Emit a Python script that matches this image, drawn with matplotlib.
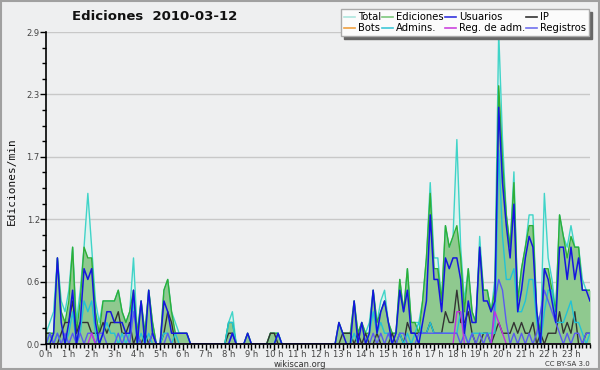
import numpy as np
import matplotlib
matplotlib.use('Agg')
import matplotlib.pyplot as plt
from matplotlib.lines import Line2D
from matplotlib.patches import Rectangle
from matplotlib.ticker import FixedLocator, MultipleLocator

# ── Data: edits per 10-minute bin (6 bins per hour), 2010-03-12 ────────────────

total = [1, 2, 3, 8, 4, 3,   5, 9, 2, 5, 9, 14,   9, 4, 2, 4, 4, 4,   4, 5, 3, 2, 3, 8,
         1, 4, 1, 5, 2, 0,   0, 5, 6, 3, 2, 1,    1, 1, 0, 0, 0, 0,   0, 0, 0, 0, 0, 0,
         2, 3, 0, 0, 0, 1,   0, 0, 0, 0, 0, 1,    1, 1, 0, 0, 0, 0,   0, 0, 0, 0, 0, 0,
         0, 0, 0, 0, 0, 2,   1, 1, 1, 4, 1, 2,    1, 2, 5, 2, 4, 5,   2, 1, 1, 6, 3, 7,
         2, 2, 2, 4, 8, 15,  8, 8, 4, 11, 9, 10,  19, 9, 4, 7, 3, 2,  10, 5, 5, 3, 6, 29,
         19, 12, 9, 16, 4, 7, 9, 12, 12, 3, 1, 14, 8, 6, 3, 12, 10, 9, 11, 9, 9, 6, 5, 5]

ediciones = [1, 1, 1, 8, 3, 2,   4, 9, 1, 4, 9, 8,   8, 3, 1, 4, 4, 4,   4, 5, 3, 2, 3, 5,
             1, 4, 1, 5, 2, 0,   0, 5, 6, 3, 1, 1,   1, 1, 0, 0, 0, 0,   0, 0, 0, 0, 0, 0,
             2, 2, 0, 0, 0, 1,   0, 0, 0, 0, 0, 1,   1, 1, 0, 0, 0, 0,   0, 0, 0, 0, 0, 0,
             0, 0, 0, 0, 0, 2,   1, 1, 1, 4, 1, 2,   1, 1, 5, 2, 3, 4,   2, 1, 1, 6, 3, 7,
             2, 2, 1, 4, 8, 14,  7, 7, 4, 11, 9, 10, 11, 8, 3, 7, 3, 2,  9, 5, 5, 3, 5, 24,
             17, 12, 9, 15, 4, 7, 9, 11, 11, 3, 1, 7, 7, 5, 3, 12, 10, 8, 10, 9, 9, 5, 5, 5]

usuarios = [0, 0, 1, 8, 2, 0,   2, 5, 0, 2, 7, 6,   7, 2, 0, 1, 3, 3,   2, 2, 2, 1, 1, 5,
            0, 4, 0, 5, 1, 0,   0, 4, 3, 1, 1, 1,   1, 1, 0, 0, 0, 0,   0, 0, 0, 0, 0, 0,
            0, 1, 0, 0, 0, 1,   0, 0, 0, 0, 0, 0,   0, 1, 0, 0, 0, 0,   0, 0, 0, 0, 0, 0,
            0, 0, 0, 0, 0, 2,   1, 0, 0, 4, 0, 2,   0, 1, 5, 1, 3, 4,   2, 0, 1, 5, 3, 5,
            1, 1, 0, 2, 4, 12,  6, 6, 3, 8, 7, 8,   8, 6, 1, 4, 2, 2,   9, 4, 4, 3, 4, 22,
            15, 11, 8, 13, 3, 5, 8, 10, 9, 3, 0, 7,  6, 4, 2, 9, 9, 6,   9, 6, 8, 5, 5, 4]

ip = [1, 1, 0, 0, 1, 2,   2, 4, 1, 2, 2, 2,   1, 1, 1, 2, 1, 2,   2, 3, 1, 1, 2, 0,
      1, 0, 1, 0, 1, 0,   0, 1, 3, 2, 0, 0,   0, 0, 0, 0, 0, 0,   0, 0, 0, 0, 0, 0,
      1, 1, 0, 0, 0, 0,   0, 0, 0, 0, 0, 1,   1, 0, 0, 0, 0, 0,   0, 0, 0, 0, 0, 0,
      0, 0, 0, 0, 0, 0,   1, 1, 1, 0, 1, 0,   1, 0, 0, 1, 0, 0,   0, 1, 0, 1, 0, 2,
      1, 1, 1, 1, 1, 2,   1, 1, 1, 3, 2, 2,   5, 2, 2, 3, 1, 0,   0, 1, 1, 0, 1, 2,
      1, 1, 1, 2, 1, 2,   1, 1, 2, 0, 1, 0,   1, 1, 1, 3, 1, 2,   1, 3, 0, 0, 1, 1]

bots = [0] * 144

admins = [0, 1, 0, 1, 0, 0,   1, 3, 0, 1, 4, 3,   4, 1, 0, 1, 2, 1,   1, 0, 1, 0, 1, 4,
          0, 1, 0, 1, 0, 0,   0, 1, 1, 0, 1, 0,   0, 0, 0, 0, 0, 0,   0, 0, 0, 0, 0, 0,
          2, 2, 0, 0, 0, 0,   0, 0, 0, 0, 0, 0,   0, 1, 0, 0, 0, 0,   0, 0, 0, 0, 0, 0,
          0, 0, 0, 0, 0, 0,   0, 0, 0, 1, 0, 0,   0, 1, 3, 1, 2, 1,   1, 0, 0, 1, 0, 1,
          0, 1, 2, 1, 1, 2,   1, 1, 1, 1, 1, 1,   1, 3, 1, 0, 1, 1,   1, 1, 1, 1, 1, 18,
          10, 6, 6, 7, 3, 3,  4, 6, 6, 2, 0, 3,   5, 5, 2, 2, 2, 3,   4, 2, 2, 1, 0, 1]

reg_adm = [0, 0, 0, 0, 0, 0,   0, 0, 0, 0, 0, 0,   1, 0, 0, 0, 0, 0,   0, 0, 0, 0, 0, 0,
           0, 0, 0, 0, 0, 0,   0, 0, 0, 0, 0, 0,   0, 0, 0, 0, 0, 0,   0, 0, 0, 0, 0, 0,
           0, 0, 0, 0, 0, 0,   0, 0, 0, 0, 0, 0,   0, 0, 0, 0, 0, 0,   0, 0, 0, 0, 0, 0,
           0, 0, 0, 0, 0, 0,   0, 0, 0, 0, 0, 0,   0, 0, 0, 0, 0, 0,   0, 0, 0, 0, 0, 0,
           0, 0, 0, 0, 0, 0,   0, 0, 0, 0, 0, 0,   3, 3, 0, 0, 0, 0,   0, 0, 0, 0, 3, 2,
           1, 0, 0, 0, 0, 0,   0, 0, 0, 0, 0, 0,   0, 0, 0, 0, 0, 0,   0, 0, 0, 0, 0, 0]

registros = [0, 1, 0, 1, 0, 1,   0, 1, 0, 1, 0, 1,   1, 0, 1, 1, 0, 0,   0, 1, 0, 1, 0, 3,
             1, 0, 0, 0, 1, 0,   0, 0, 1, 0, 0, 0,   0, 0, 0, 0, 0, 0,   0, 0, 0, 0, 0, 0,
             0, 1, 0, 0, 0, 0,   0, 0, 0, 0, 0, 0,   0, 0, 0, 0, 0, 0,   0, 0, 0, 0, 0, 0,
             0, 0, 0, 0, 0, 0,   0, 0, 0, 0, 0, 0,   0, 0, 1, 0, 1, 0,   1, 0, 0, 1, 1, 0,
             0, 0, 1, 1, 1, 1,   1, 1, 1, 1, 1, 1,   1, 0, 1, 0, 1, 0,   1, 0, 1, 0, 4, 6,
             5, 2, 0, 1, 0, 1,   0, 1, 0, 1, 3, 5,   4, 3, 2, 1, 0, 1,   0, 1, 1, 0, 1, 1]

hour_labels = [f'{h} h' for h in range(24)]
title = 'Ediciones  2010-03-12'
ylabel = 'Ediciones/min'
y_max = 2.9

# ── Figure ─────────────────────────────────────────────────────────────────────

BG = '#eeeff0'
plt.rcParams['font.family'] = ['DejaVu Sans']

fig = plt.figure(figsize=(6.0, 3.7), dpi=100, facecolor=BG)
ax = fig.add_axes([46 / 600, 1 - 344 / 370, 544 / 600, 312 / 370])
ax.set_facecolor(BG)

x = np.arange(len(total))
per_min = lambda counts: np.asarray(counts) / 10.0   # edits per 10 min -> per min

ax.fill_between(x, per_min(total), color='#ddf3ef', lw=0, zorder=1)
ax.fill_between(x, per_min(ediciones), color='#8fc98f', lw=0, zorder=2)

ax.plot(x, per_min(bots), color='#f0a040', lw=1.0, zorder=2.5)
ax.plot(x, per_min(total), color='#40d4c8', lw=1.0, zorder=3)
ax.plot(x, per_min(ediciones), color='#2fae35', lw=1.0, zorder=4)
ax.plot(x, per_min(ip), color='#333333', lw=1.0, zorder=5)
ax.plot(x, per_min(admins), color='#22c2d6', lw=1.0, zorder=5)
ax.plot(x, per_min(registros), color='#5a5af0', lw=1.0, zorder=5)
ax.plot(x, per_min(reg_adm), color='#c030e0', lw=1.0, zorder=6)
ax.plot(x, per_min(usuarios), color='#1515e0', lw=1.1, zorder=7)

# axes
ax.set_xlim(0, len(total) - 1)
ax.set_ylim(0, y_max)
yt = np.linspace(0, y_max, 6)
ax.yaxis.set_major_locator(FixedLocator(yt))
ax.set_yticklabels([f'{v:.1f}' for v in yt])
ax.yaxis.set_minor_locator(MultipleLocator(y_max / 20))
ax.xaxis.set_major_locator(FixedLocator(np.arange(0, 144, 6)))
ax.set_xticklabels(hour_labels)
ax.xaxis.set_minor_locator(MultipleLocator(1))

for yv in yt[1:]:
    ax.axhline(yv, color='#c8c8c8', lw=1.0, zorder=0.5)

for s in ('top', 'right'):
    ax.spines[s].set_visible(False)
ax.spines['left'].set_linewidth(1.2)
ax.spines['bottom'].set_linewidth(1.2)
ax.spines['left'].set_zorder(10)
ax.spines['bottom'].set_zorder(10)

ax.tick_params(axis='both', which='major', length=4, width=1, labelsize=6,
               labelcolor='#444444', pad=0.5)
ax.tick_params(axis='both', which='minor', length=3, width=1)

fig.text(0.257, 0.955, title, ha='center', va='center', fontsize=9.5,
         fontweight='bold', color='#111111')
fig.text(0.02, 0.51, ylabel, rotation=90, ha='center', va='center',
         fontsize=8, family='DejaVu Sans Mono', color='#111111')
fig.text(0.5, 0.014, 'wikiscan.org', ha='center', va='center', fontsize=6,
         color='#333333')
fig.text(0.983, 0.016, 'CC BY-SA 3.0', ha='right', va='center', fontsize=5,
         color='#333333')

# legend
handles = [
    Line2D([], [], color='#aee6de', lw=1.2), Line2D([], [], color='#f0a040', lw=1.2),
    Line2D([], [], color='#7cc87c', lw=1.2), Line2D([], [], color='#40c8d8', lw=1.2),
    Line2D([], [], color='#3333dd', lw=1.2), Line2D([], [], color='#cc44dd', lw=1.2),
    Line2D([], [], color='#333333', lw=1.2), Line2D([], [], color='#7070ee', lw=1.2),
]
labels = ['Total', 'Bots', 'Ediciones', 'Admins.', 'Usuarios', 'Reg. de adm.',
          'IP', 'Registros']
leg = fig.legend(handles, labels, ncol=4, loc='upper right',
                 bbox_to_anchor=(589 / 600, 1 - 9 / 370), fontsize=7.2,
                 frameon=True, fancybox=False, shadow={'color': '#666666', 'alpha': 1.0},
                 handlelength=1.1, handletextpad=0.3, columnspacing=0.1,
                 labelspacing=0.1, borderpad=0.3, borderaxespad=0)
leg.get_frame().set_facecolor('#fbfbfb')
leg.get_frame().set_edgecolor('#aaaaaa')
leg.get_frame().set_linewidth(1.0)

fig.patches.append(Rectangle((0.001, 0.002), 0.997, 0.996, transform=fig.transFigure,
                             fill=False, edgecolor='#a0a0a0', lw=1.5))

fig.savefig('out.png', dpi=100, facecolor=BG)
